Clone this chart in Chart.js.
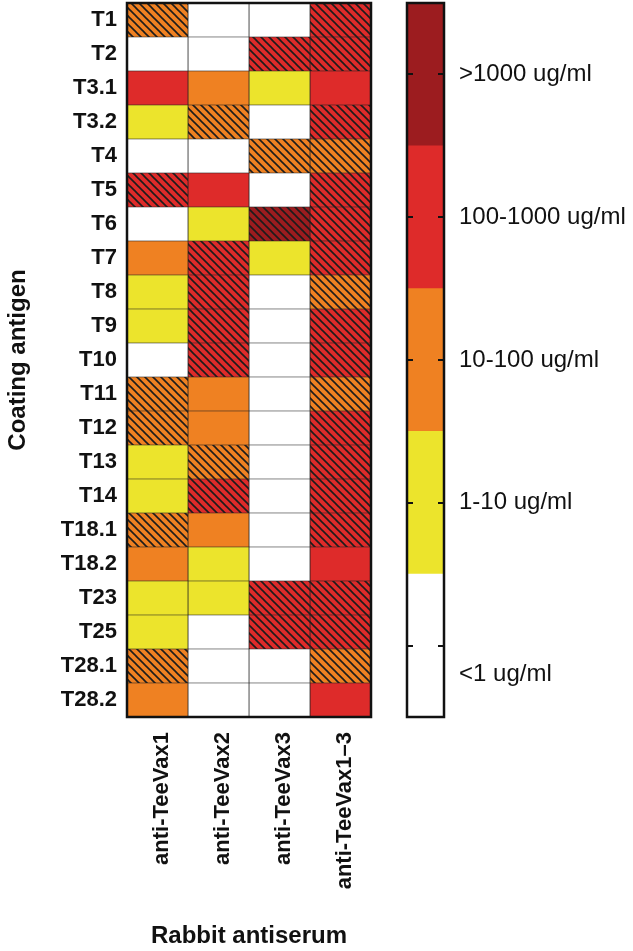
<!DOCTYPE html>
<html>
<head>
<meta charset="utf-8">
<script src="https://cdn.jsdelivr.net/npm/chart.js@4.4.1/dist/chart.umd.min.js"></script>
<style>
  html, body { margin: 0; padding: 0; background: #fff; }
  #wrap { position: relative; width: 633px; height: 951px; }
  #heatmap { position: absolute; left: 0; top: 0; }
  #scale { position: absolute; left: 400px; top: 0; }
</style>
</head>
<body>
<div id="wrap">
  <canvas id="heatmap" width="400" height="951"></canvas>
  <canvas id="scale" width="233" height="951"></canvas>
</div>
<script>
// rows = coating antigens, columns = rabbit antisera
const antigens = ['T1', 'T2', 'T3.1', 'T3.2', 'T4', 'T5', 'T6', 'T7', 'T8', 'T9', 'T10',
    'T11', 'T12', 'T13', 'T14', 'T18.1', 'T18.2', 'T23', 'T25', 'T28.1', 'T28.2'];
const antisera = ['anti-TeeVax1', 'anti-TeeVax2', 'anti-TeeVax3', 'anti-TeeVax1\u20133'];
const levelNames = ['<1 ug/ml', '1-10 ug/ml', '10-100 ug/ml', '100-1000 ug/ml', '>1000 ug/ml'];

// titer level per antigen (0 = <1 ... 4 = >1000), one array per antiserum
const levelTeeVax1 = [2, 0, 3, 1, 0, 3, 0, 2, 1, 1, 0, 2, 2, 1, 1, 2, 2, 1, 1, 2, 2];
const levelTeeVax2 = [0, 0, 2, 2, 0, 3, 1, 3, 3, 3, 3, 2, 2, 2, 3, 2, 1, 1, 0, 0, 0];
const levelTeeVax3 = [0, 3, 1, 0, 2, 0, 4, 1, 0, 0, 0, 0, 0, 0, 0, 0, 0, 3, 3, 0, 0];
const levelTeeVax13 = [3, 3, 3, 3, 2, 3, 3, 3, 2, 3, 3, 2, 3, 3, 3, 3, 3, 3, 3, 2, 3];

// hatched cells (1 = hatched)
const hatchTeeVax1 = [1, 0, 0, 0, 0, 1, 0, 0, 0, 0, 0, 1, 1, 0, 0, 1, 0, 0, 0, 1, 0];
const hatchTeeVax2 = [0, 0, 0, 1, 0, 0, 0, 1, 1, 1, 1, 0, 0, 1, 1, 0, 0, 0, 0, 0, 0];
const hatchTeeVax3 = [0, 1, 0, 0, 1, 0, 1, 0, 0, 0, 0, 0, 0, 0, 0, 0, 0, 1, 1, 0, 0];
const hatchTeeVax13 = [1, 1, 0, 1, 1, 1, 1, 1, 1, 1, 1, 1, 1, 1, 1, 1, 0, 1, 1, 1, 0];

const levels = [levelTeeVax1, levelTeeVax2, levelTeeVax3, levelTeeVax13];
const hatches = [hatchTeeVax1, hatchTeeVax2, hatchTeeVax3, hatchTeeVax13];

const palette = ['#ffffff', '#ece42c', '#ef8122', '#de2b2a', '#9c1c1f'];
const FONT = "'Liberation Sans', Arial, sans-serif";

function hatchPattern(color) {
    const s = 8;
    const c = document.createElement('canvas');
    c.width = s;
    c.height = s;
    const g = c.getContext('2d');
    g.fillStyle = color;
    g.fillRect(0, 0, s, s);
    g.strokeStyle = '#1c1c1c';
    g.lineWidth = 1.6;
    [-s, 0, s].forEach(k => {
        g.beginPath();
        g.moveTo(-s, -s + k);
        g.lineTo(2 * s, 2 * s + k);
        g.stroke();
    });
    return g.createPattern(c, 'repeat');
}

const patterns = palette.map(hatchPattern);

// no extra room for half labels at the ends of the vertical axes
function noEndPadding(s) {
    s.paddingTop = 0;
    s.paddingBottom = 0;
}

const frame = {
    id: 'frame',
    afterDatasetsDraw(chart) {
        const { ctx, chartArea: a } = chart;
        ctx.save();
        ctx.lineWidth = 2.5;
        ctx.strokeStyle = '#111';
        ctx.strokeRect(a.left, a.top, a.right - a.left, a.bottom - a.top);
        ctx.restore();
    }
};

new Chart(document.getElementById('heatmap'), {
    type: 'bar',
    data: {
        labels: antigens,
        datasets: antisera.map((name, j) => ({
            label: name,
            data: antigens.map(() => [j, j + 1]),
            backgroundColor: levels[j].map((lv, i) => hatches[j][i] ? patterns[lv] : palette[lv]),
            borderColor: '#222',
            borderWidth: 0.7,
            borderSkipped: false,
            grouped: false,
            barPercentage: 1,
            categoryPercentage: 1
        }))
    },
    options: {
        indexAxis: 'y',
        responsive: false,
        animation: false,
        layout: { padding: { top: 3, right: 29, left: 0, bottom: 0 } },
        scales: {
            x: {
                type: 'linear',
                min: 0,
                max: 4,
                grid: { display: false, drawTicks: false },
                border: { display: false },
                afterBuildTicks: s => { s.ticks = antisera.map((_, j) => ({ value: j + 0.5 })); },
                afterFit: s => { s.height = 234; s.paddingLeft = 0; s.paddingRight = 0; },
                ticks: {
                    autoSkip: false,
                    minRotation: 90,
                    maxRotation: 90,
                    padding: 15,
                    labelOffset: 4,
                    color: '#111',
                    font: { family: FONT, size: 22, weight: 'bold' },
                    callback: (v, i) => antisera[i]
                },
                title: {
                    display: true,
                    text: 'Rabbit antiserum',
                    color: '#111',
                    padding: { top: 0, bottom: 0 },
                    font: { family: FONT, size: 24, weight: 'bold' }
                }
            },
            y: {
                grid: { display: false, drawTicks: false },
                border: { display: false },
                afterFit: s => { s.width = 127; noEndPadding(s); },
                ticks: {
                    autoSkip: false,
                    padding: 10,
                    color: '#111',
                    font: { family: FONT, size: 22, weight: 'bold' }
                },
                title: {
                    display: true,
                    text: 'Coating antigen',
                    color: '#111',
                    padding: { top: 4, bottom: 0 },
                    font: { family: FONT, size: 24, weight: 'bold' }
                }
            }
        },
        plugins: {
            legend: { display: false },
            tooltip: { enabled: false }
        }
    },
    plugins: [frame]
});

// colour scale bar
const scaleFrame = {
    id: 'scaleFrame',
    afterDatasetsDraw(chart) {
        const { ctx, chartArea: a } = chart;
        const y = chart.scales.y;
        ctx.save();
        ctx.strokeStyle = '#111';
        ctx.lineWidth = 2;
        levelNames.forEach((_, i) => {
            const py = Math.round(y.getPixelForValue(i + 0.5));
            ctx.beginPath();
            ctx.moveTo(a.left, py);
            ctx.lineTo(a.left + 6, py);
            ctx.moveTo(a.right - 6, py);
            ctx.lineTo(a.right, py);
            ctx.stroke();
        });
        ctx.lineWidth = 2.5;
        ctx.strokeRect(a.left, a.top, a.right - a.left, a.bottom - a.top);
        ctx.restore();
    }
};

new Chart(document.getElementById('scale'), {
    type: 'bar',
    data: {
        labels: ['scale'],
        datasets: levelNames.map((name, i) => ({
            label: name,
            data: [1],
            backgroundColor: palette[i],
            borderWidth: 0,
            barPercentage: 1,
            categoryPercentage: 1
        }))
    },
    options: {
        responsive: false,
        animation: false,
        layout: { padding: { top: 3, right: 0, left: 7, bottom: 234 } },
        scales: {
            x: { stacked: true, display: false },
            y: {
                stacked: true,
                position: 'right',
                min: 0,
                max: levelNames.length,
                grid: { display: false, drawTicks: false },
                border: { display: false },
                // lowest label sits a little below its tick in the original
                afterBuildTicks: s => { s.ticks = levelNames.map((_, i) => ({ value: i === 0 ? 0.3 : i + 0.5 })); },
                afterFit: s => { s.width = 189; noEndPadding(s); },
                ticks: {
                    padding: 15,
                    color: '#111',
                    font: { family: FONT, size: 24 },
                    callback: (v, i) => levelNames[i]
                }
            }
        },
        plugins: {
            legend: { display: false },
            tooltip: { enabled: false }
        }
    },
    plugins: [scaleFrame]
});
</script>
</body>
</html>
